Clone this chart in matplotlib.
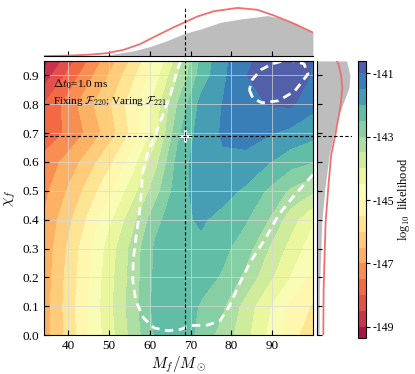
"""Likelihood map of the remnant mass / spin with marginal distributions."""

import matplotlib
matplotlib.use("Agg")
import matplotlib.pyplot as plt
import numpy as np

plt.rcParams["font.family"] = ["Liberation Serif", "DejaVu Serif"]
plt.rcParams["mathtext.fontset"] = "cm"
plt.rcParams["axes.unicode_minus"] = False

# grid of the likelihood table
MASS_GRID = [34, 39.5, 45, 50.5, 56, 61.5, 67, 72.5, 78, 83.5, 89, 94.5, 100]
SPIN_GRID = [0.0, 0.1, 0.2, 0.3, 0.4, 0.5, 0.6, 0.7, 0.8, 0.9, 0.95]

# log10 likelihood, one row per spin value
LOG_LIKELIHOOD = [
    [-146.75, -145.89, -145.02, -144.16, -143.30, -142.43, -142.12, -142.68, -143.22, -143.87, -144.58, -145.24, -145.95],
    [-146.75, -145.86, -144.97, -144.08, -143.20, -142.31, -142.08, -142.57, -142.96, -143.73, -144.43, -145.15, -145.55],
    [-146.80, -145.91, -145.03, -144.14, -143.26, -142.37, -142.05, -142.27, -142.58, -143.14, -143.86, -144.54, -145.15],
    [-146.85, -146.00, -145.12, -144.22, -143.30, -142.40, -142.08, -142.13, -142.38, -142.79, -143.50, -144.19, -144.80],
    [-146.95, -146.20, -145.40, -144.55, -143.65, -142.65, -142.15, -141.93, -142.18, -142.46, -143.01, -143.79, -144.45],
    [-147.15, -146.50, -145.80, -145.05, -144.20, -143.20, -142.20, -141.78, -141.82, -142.10, -142.58, -143.10, -143.45],
    [-147.35, -146.85, -146.25, -145.55, -144.70, -143.65, -142.30, -141.70, -141.56, -141.62, -141.97, -142.30, -142.50],
    [-147.80, -147.44, -146.88, -146.18, -145.32, -144.20, -142.60, -141.75, -141.45, -141.35, -141.45, -141.65, -141.85],
    [-148.00, -147.35, -146.65, -146.00, -145.20, -144.25, -142.95, -141.85, -141.48, -141.20, -140.98, -140.92, -141.35],
    [-148.80, -147.95, -147.15, -146.40, -145.60, -144.70, -143.50, -142.30, -141.60, -141.02, -140.66, -140.60, -141.05],
    [-149.20, -148.30, -147.45, -146.65, -145.85, -144.95, -143.75, -142.40, -141.62, -141.12, -140.76, -140.70, -141.02],
]

# credible region outlines
OUTER_MASS = [67.6, 66.7, 65.2, 63.1, 61.5, 59.4, 58.2, 57.8, 57.4, 56.6, 55.9, 55.8, 56.5, 58.4, 61.0,
              64.4, 67.5, 70.0, 74.2, 77.2, 79.5, 82.2, 84.7, 88.4, 91.6, 94.9, 100.0]
OUTER_SPIN = [0.95, 0.92, 0.84, 0.76, 0.70, 0.63, 0.56, 0.48, 0.42, 0.34, 0.26, 0.19, 0.12, 0.06, 0.025,
              0.015, 0.02, 0.033, 0.035, 0.05, 0.10, 0.185, 0.255, 0.336, 0.417, 0.475, 0.556]
INNER_MASS = [84.4, 85.3, 87.5, 91.5, 95.5, 98.8, 97.8, 94.0, 90.0, 87.3, 85.1, 84.4]
INNER_SPIN = [0.85, 0.82, 0.805, 0.812, 0.845, 0.905, 0.94, 0.955, 0.94, 0.92, 0.885, 0.85]

TRUE_MASS = 68.5
TRUE_SPIN = 0.69

# top marginal (mass)
TOP_CURVE_MASS = [34, 40, 45.3, 49.4, 53.5, 57.6, 61.8, 65.9, 68.5, 71.6, 75.7, 81.5, 86.4, 90.5, 94.6, 100]
TOP_CURVE = [0.0, 0.01, 0.03, 0.06, 0.13, 0.25, 0.43, 0.60, 0.70, 0.82, 0.93, 1.0, 0.96, 0.84, 0.70, 0.49]
TOP_HIST_MASS = [34, 45, 49.4, 56, 60.1, 64.2, 68.5, 72.4, 77.3, 82.3, 88.9, 92.2, 96.2, 100]
TOP_HIST = [0.0, 0.01, 0.02, 0.11, 0.20, 0.32, 0.47, 0.56, 0.70, 0.77, 0.84, 0.79, 0.67, 0.49]

# side marginal (spin)
SIDE_HIST_SPIN = [0.0, 0.16, 0.28, 0.39, 0.51, 0.625, 0.69, 0.74, 0.80, 0.857, 0.90, 0.95]
SIDE_HIST = [0.06, 0.07, 0.11, 0.14, 0.24, 0.37, 0.50, 0.60, 0.78, 0.97, 1.0, 0.9]
SIDE_CURVE_SPIN = [0.0, 0.16, 0.28, 0.39, 0.51, 0.625, 0.69, 0.80, 0.857, 0.90, 0.94, 0.96]
SIDE_CURVE = [0.19, 0.20, 0.23, 0.26, 0.34, 0.43, 0.55, 0.72, 0.77, 0.73, 0.65, 0.55]

CBAR_TICKS = [-149, -147, -145, -143, -141]
CBAR_RANGE = (-149.35, -140.62)
DASH = (0, (3, 2))


def style_marginal(ax, keep):
    for side in ["top", "bottom", "left", "right"]:
        ax.spines[side].set_visible(side == keep)
    ax.tick_params(direction="in", length=3.5, labelbottom=False, labelleft=False,
                   bottom=(keep == "bottom"), left=(keep == "left"))


def main():
    fig = plt.figure(figsize=(4.15, 3.74), dpi=100)
    ax = fig.add_axes([0.106, 0.104, 0.648, 0.733])
    ax_top = fig.add_axes([0.106, 0.850, 0.648, 0.147], sharex=ax)
    ax_side = fig.add_axes([0.764, 0.104, 0.084, 0.733], sharey=ax)
    cax = fig.add_axes([0.863, 0.096, 0.019, 0.741])

    levels = np.arange(-149.5, -140.4, 0.5)
    cf = ax.contourf(MASS_GRID, SPIN_GRID, LOG_LIKELIHOOD, levels=levels, cmap="Spectral")
    ax.plot(OUTER_MASS, OUTER_SPIN, color="white", lw=2, ls=DASH)
    ax.plot(INNER_MASS, INNER_SPIN, color="white", lw=2, ls=DASH)
    ax.plot(TRUE_MASS, TRUE_SPIN, marker="+", color="white", ms=9, mew=2, zorder=3)
    ax.axvline(TRUE_MASS, color="black", lw=0.8, ls=DASH, zorder=4)
    ax.axhline(TRUE_SPIN, color="black", lw=0.8, ls=DASH, zorder=4)

    ax.text(0.035, 0.915, r"$\Delta t_0$=1.0 ms", transform=ax.transAxes, fontsize=8, va="center")
    ax.text(0.035, 0.853, r"Fixing $\mathcal{F}_{220}$; Varing $\mathcal{F}_{221}$",
            transform=ax.transAxes, fontsize=8, va="center")

    ax.set_xlim(34, 100)
    ax.set_ylim(0, 0.95)
    ax.set_xticks([40, 50, 60, 70, 80, 90])
    ax.set_yticks(np.round(np.arange(0, 1.0, 0.1), 1))
    ax.grid(color="#d8d8d8", lw=0.7, alpha=0.7)
    ax.tick_params(direction="in", labelsize=9.5, length=3.5)
    ax.set_xlabel(r"$M_f/M_\odot$", fontsize=11, labelpad=2)
    ax.set_ylabel(r"$\chi_f$", fontsize=11, labelpad=3)

    ax_top.fill_between(TOP_HIST_MASS, TOP_HIST, color="#bdbdbd", lw=0)
    ax_top.plot(TOP_CURVE_MASS, TOP_CURVE, color="#f07070", lw=1.3)
    ax_top.axvline(TRUE_MASS, ymax=0.92, color="black", lw=0.8, ls=DASH)
    ax_top.set_ylim(0, 1.14)
    style_marginal(ax_top, "bottom")

    ax_side.fill_betweenx(SIDE_HIST_SPIN, SIDE_HIST, color="#bdbdbd", lw=0)
    ax_side.plot(SIDE_CURVE, SIDE_CURVE_SPIN, color="#f07070", lw=1.3)
    ax_side.axhline(TRUE_SPIN, color="black", lw=0.8, ls=DASH)
    ax_side.set_xlim(0, 1.06)
    style_marginal(ax_side, "left")

    cbar = fig.colorbar(cf, cax=cax, ticks=CBAR_TICKS)
    cbar.ax.set_ylim(*CBAR_RANGE)
    cbar.ax.tick_params(labelsize=8.5, length=3, pad=1.5)
    cbar.set_label(r"$\log_{10}$ likelihood", fontsize=9, labelpad=1)
    cbar.outline.set_linewidth(0.8)

    fig.savefig("out.png", dpi=100)
    plt.close(fig)


if __name__ == "__main__":
    main()
